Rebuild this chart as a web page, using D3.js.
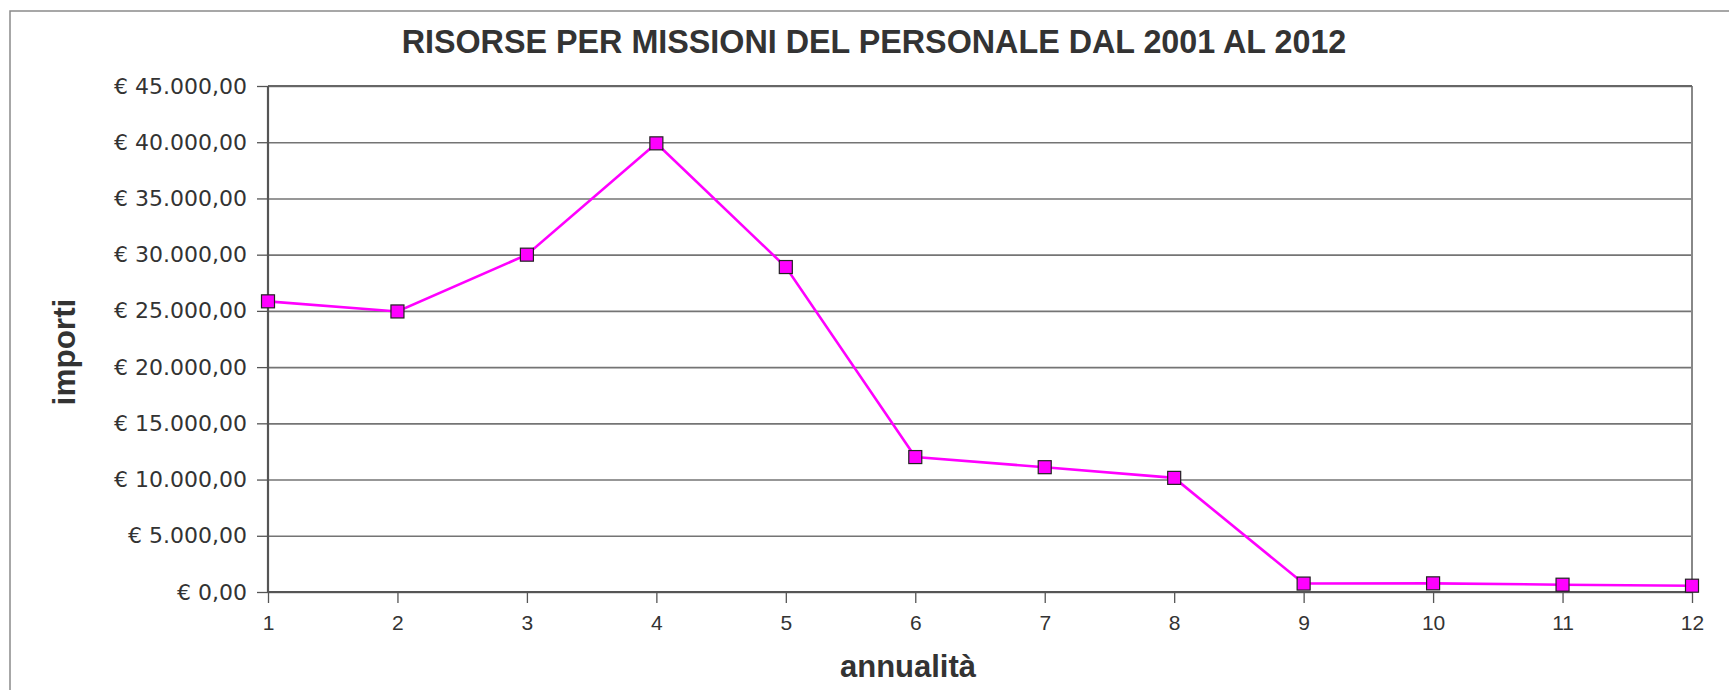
<!DOCTYPE html>
<html lang="it">
<head>
<meta charset="UTF-8">
<title>Risorse per missioni</title>
<script src="https://cdn.jsdelivr.net/npm/d3@7"></script>
<style>
  body { margin: 0; background: #fff; }
  .grid line { stroke: #747474; stroke-width: 1.6; }
  .grid path { display: none; }
  .yax text { font-family: "DejaVu Sans", sans-serif; font-size: 22px; fill: #333; }
  .xax text { font-family: "Liberation Sans", Arial, sans-serif; font-size: 21px; fill: #333; }
  .yax path, .xax path { display: none; }
  .yax line, .xax line { stroke: #555; stroke-width: 1.3; }
  .serie { fill: none; stroke: #ff00ff; stroke-width: 2.6; }
  .punto { fill: #ff00ff; stroke: #222; stroke-width: 1.2; }
  .titolo { font-family: "Liberation Sans", Arial, sans-serif; font-weight: bold; fill: #333; }
</style>
</head>
<body>
<svg id="chart" width="1729" height="690"></svg>
<script>
// anni (annualità) e importi in euro
let anni = [1, 2, 3, 4, 5, 6, 7, 8, 9, 10, 11, 12]
let importi = [25850, 24950, 30000, 39900, 28900, 12000, 11100, 10150, 750, 770, 650, 560]
let yTicks = [0, 5000, 10000, 15000, 20000, 25000, 30000, 35000, 40000, 45000]

let titolo = "RISORSE PER MISSIONI DEL PERSONALE DAL 2001 AL 2012"
let titoloX = "annualità"
let titoloY = "importi"

let svg = d3.select("#chart")
let pLeft = 268, pRight = 1692, pTop = 86, pBottom = 592

// cornice esterna
svg.append("rect")
  .attr("x", 10).attr("y", 11)
  .attr("width", 1740).attr("height", 700)
  .attr("fill", "none").attr("stroke", "#8a8a8a").attr("stroke-width", 1.5)

let x = d3.scaleLinear().domain([1, 12]).range([pLeft, pRight])
let y = d3.scaleLinear().domain([0, 45000]).range([pBottom, pTop])

let euro = d3.formatLocale({ decimal: ",", thousands: ".", grouping: [3], currency: ["€ ", ""] })
let fmt = euro.format("$,.2f")

// griglia
svg.append("g").attr("class", "grid")
  .attr("transform", "translate(" + pLeft + ",0)")
  .call(d3.axisRight(y).tickValues(yTicks).tickSize(pRight - pLeft).tickFormat(""))

// bordo area
svg.append("line").attr("x1", pRight).attr("x2", pRight).attr("y1", pTop).attr("y2", pBottom)
  .attr("stroke", "#888").attr("stroke-width", 2)
svg.append("line").attr("x1", pLeft).attr("x2", pRight).attr("y1", pTop).attr("y2", pTop)
  .attr("stroke", "#666").attr("stroke-width", 2)

svg.append("g").attr("class", "yax")
  .attr("transform", "translate(" + pLeft + ",0)")
  .call(d3.axisLeft(y).tickValues(yTicks).tickSize(11).tickPadding(10).tickFormat(fmt))

svg.append("g").attr("class", "xax")
  .attr("transform", "translate(0," + pBottom + ")")
  .call(d3.axisBottom(x).tickValues(anni).tickSize(11).tickPadding(12).tickFormat(d3.format("d")))

// assi principali
svg.append("line").attr("x1", pLeft).attr("x2", pLeft).attr("y1", pTop).attr("y2", pBottom)
  .attr("stroke", "#555").attr("stroke-width", 2.2)
svg.append("line").attr("x1", pLeft).attr("x2", pRight).attr("y1", pBottom).attr("y2", pBottom)
  .attr("stroke", "#555").attr("stroke-width", 2.2)

let linea = d3.line().x((d, i) => x(anni[i])).y(d => y(d))
svg.append("path").datum(importi).attr("class", "serie").attr("d", linea)

let lato = 13
svg.selectAll(".punto").data(importi).enter().append("rect")
  .attr("class", "punto")
  .attr("x", (d, i) => x(anni[i]) - lato / 2)
  .attr("y", d => y(d) - lato / 2)
  .attr("width", lato).attr("height", lato)

svg.append("text").attr("class", "titolo")
  .attr("x", 874).attr("y", 53)
  .attr("text-anchor", "middle").attr("font-size", 32.3)
  .text(titolo)

svg.append("text").attr("class", "titolo")
  .attr("x", 908).attr("y", 677)
  .attr("text-anchor", "middle").attr("font-size", 31)
  .text(titoloX)

svg.append("text").attr("class", "titolo")
  .attr("transform", "translate(75,352) rotate(-90)")
  .attr("text-anchor", "middle").attr("font-size", 31.5)
  .text(titoloY)
</script>
</body>
</html>
